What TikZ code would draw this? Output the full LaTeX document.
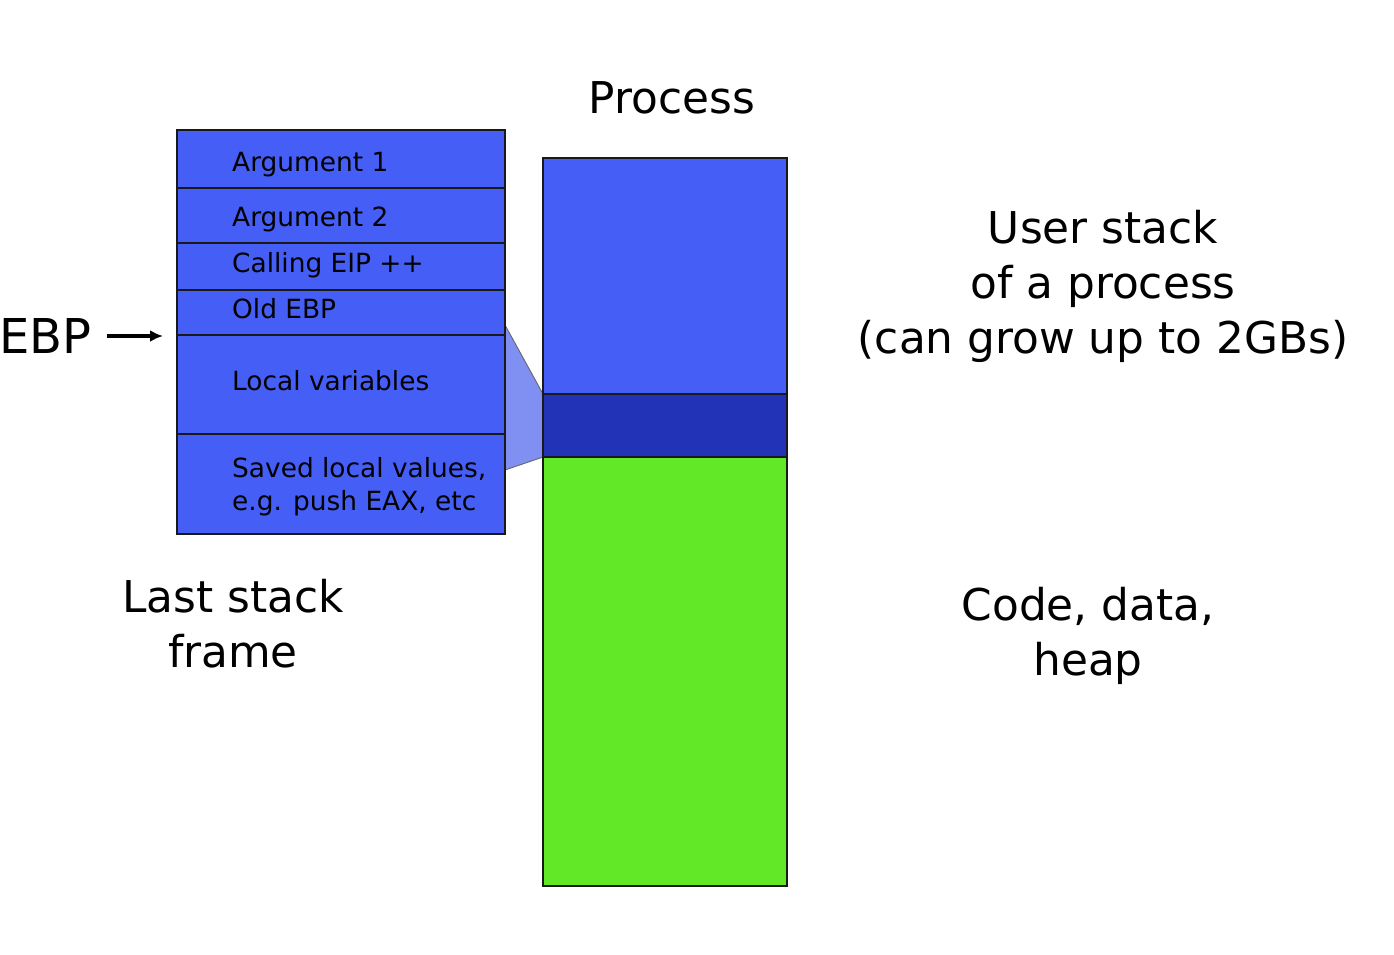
\documentclass[tikz,border=0pt]{standalone}
\usepackage{fontspec}
\setmainfont{DejaVu Sans}
\usetikzlibrary{arrows.meta}
\definecolor{frameblue}{HTML}{455EF5}
\definecolor{darkband}{HTML}{2233B8}
\definecolor{codegreen}{HTML}{62E827}
\definecolor{zoomfill}{HTML}{8090F2}
\tikzset{
  rowtext/.style={anchor=base west, inner sep=0pt, font=\fontsize{26.4}{30}\selectfont},
  bigtext/.style={anchor=base, inner sep=0pt, font=\fontsize{43.8}{55}\selectfont},
  boxline/.style={draw=black!90, line width=2.2pt},
  sepline/.style={draw=black!90, line width=1.4pt},
}
\begin{document}
\begin{tikzpicture}[x=1pt,y=-1pt]
\useasboundingbox (0,0) rectangle (1394,954);
% zoom trapezoid
\fill[zoomfill] (505,325) -- (543,394) -- (543,457) -- (505,470) -- cycle;
\draw[gray!80!black, line width=0.9pt] (505,325) -- (543,394);
\draw[gray!80!black, line width=0.9pt] (505,470) -- (543,457);
% stack frame
\fill[frameblue] (177,130) rectangle (505,534);
\foreach \y in {188,243,290,335,434} \draw[sepline] (177,\y) -- (505,\y);
\draw[boxline] (177,130) rectangle (505,534);
\node[rowtext] (a1) at (232,171) {Argument 1};
\node[rowtext] (a2) at (232,226) {Argument 2};
\node[rowtext] (eip) at (232,272) {Calling EIP ++};
\node[rowtext] (oebp) at (232,318) {Old EBP};
\node[rowtext] (lv) at (232,390) {Local variables};
\node[rowtext] (sv1) at (232,477) {Saved local values,};
\node[rowtext] (sv2) at (232,510) {e.g. push EAX, etc};
% EBP pointer
\node[anchor=base west, inner sep=0pt, font=\fontsize{48}{55}\selectfont] (ebp) at (-1,353) {EBP};
\coordinate (ebpstart) at (107,336);
\coordinate (ebpend) at (163,336);
\draw[line width=3.2pt, -{Latex[length=13pt,width=12pt]}] (ebpstart) -- (ebpend);
% process column
\fill[frameblue] (543,158) rectangle (787,394);
\fill[darkband] (543,394) rectangle (787,457);
\fill[codegreen] (543,457) rectangle (787,886);
\draw[sepline, line width=2.2pt] (543,394) -- (787,394);
\draw[sepline, line width=2.2pt] (543,457) -- (787,457);
\draw[boxline] (543,158) rectangle (787,886);
% labels
\node[bigtext] (proc) at (672,113) {Process};
\node[bigtext] (us1) at (1103,243) {User stack};
\node[bigtext] (us2) at (1103,298) {of a process};
\node[bigtext] (us3) at (1103,353) {(can grow up to 2GBs)};
\node[bigtext] (cd1) at (1088,620) {Code, data,};
\node[bigtext] (cd2) at (1088,675) {heap};
\node[bigtext] (ls1) at (233,612) {Last stack};
\node[bigtext] (ls2) at (233,667) {frame};
\end{tikzpicture}
\end{document}
